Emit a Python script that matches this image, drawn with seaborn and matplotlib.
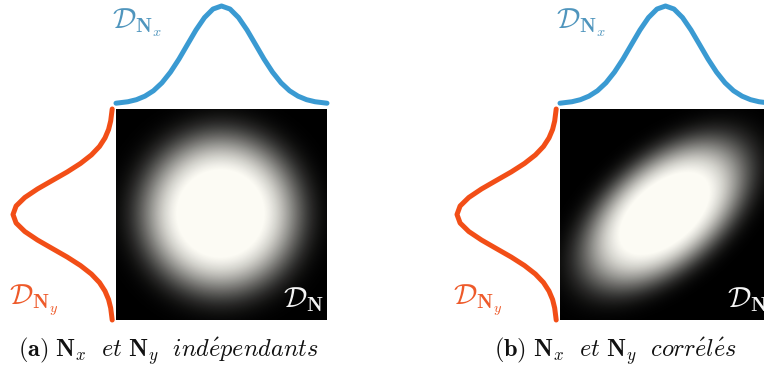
import numpy as np
import pandas as pd
import matplotlib
matplotlib.use("Agg")
import matplotlib.pyplot as plt
from matplotlib.colors import LinearSegmentedColormap
import seaborn as sns

sns.set_theme(style="white")
plt.rcParams["mathtext.fontset"] = "cm"

# ---- data ----
# marginal density shapes (normalised height) at positions in std units
positions = [-3.1, -2.75, -2.5, -2.25, -2.0, -1.75, -1.5, -1.25, -1.0, -0.75, -0.5, -0.25,
             0.0, 0.25, 0.5, 0.75, 1.0, 1.25, 1.5, 1.75, 2.0, 2.25, 2.5, 2.75, 3.1]
top_density = [0.008, 0.023, 0.044, 0.080, 0.135, 0.216, 0.325, 0.458, 0.607, 0.755, 0.882, 0.969,
               1.0, 0.969, 0.882, 0.755, 0.607, 0.458, 0.325, 0.216, 0.135, 0.080, 0.044, 0.023, 0.008]
left_density = [0.008, 0.023, 0.044, 0.080, 0.135, 0.216, 0.325, 0.458, 0.607, 0.755, 0.882, 0.969,
                1.0, 0.969, 0.882, 0.755, 0.607, 0.458, 0.325, 0.216, 0.135, 0.080, 0.044, 0.023, 0.008]

# joint blob: half-intensity radii (px) along major/minor axes and tilt (deg)
panels = ["a", "b"]
blob_major = [71, 86]
blob_minor = [71, 48]
blob_angle = [0, 40]
captions = [r"$\mathbf{(a)}\ \mathbf{N}_x\ \ \mathit{et}\ \mathbf{N}_y\ \ \mathit{ind\acute{e}pendants}$",
            r"$\mathbf{(b)}\ \mathbf{N}_x\ \ \mathit{et}\ \mathbf{N}_y\ \ \mathit{corr\acute{e}l\acute{e}s}$"]
label_x = r"$\mathcal{D}_{\mathbf{N}_x}$"
label_y = r"$\mathcal{D}_{\mathbf{N}_y}$"
label_joint = r"$\mathcal{D}_{\mathbf{N}}$"

BLUE = "#3a9ad2"
ORANGE = "#f24e17"
W, H = 764, 370

fig = plt.figure(figsize=(W / 100, H / 100), dpi=100)


def px_axes(x, y, w, h):
    ax = fig.add_axes([x / W, 1 - (y + h) / H, w / W, h / H])
    ax.set_axis_off()
    return ax


cmap = LinearSegmentedColormap.from_list("blob", ["#000000", "#fcfbf4"])

for i, p in enumerate(panels):
    dx = 444 * i
    # image
    n = 211
    ax_img = px_axes(116 + dx, 109, 211, 211)
    yy, xx = np.mgrid[0:n, 0:n]
    cx, cy = (n - 1) / 2 - 1, (n - 1) / 2 - 1
    th = np.deg2rad(blob_angle[i])
    u = (xx - cx) * np.cos(th) - (yy - cy) * np.sin(th)
    v = (xx - cx) * np.sin(th) + (yy - cy) * np.cos(th)
    r = np.sqrt((u / blob_major[i]) ** 2 + (v / blob_minor[i]) ** 2)
    img = np.clip(1.1 * 2.0 ** (-(r ** 4)), 0, 1)
    sns.heatmap(pd.DataFrame(img), ax=ax_img, cmap=cmap, vmin=0, vmax=1, cbar=False,
                xticklabels=False, yticklabels=False, rasterized=True)
    ax_img.set_axis_off()
    ax_img.text(0.985, 0.03, label_joint, transform=ax_img.transAxes, color="#f4f4f4",
                fontsize=21, ha="right", va="bottom")

    # top marginal
    ax_top = px_axes(116 + dx, 6, 211, 98)
    sns.lineplot(x=positions, y=top_density, ax=ax_top, color=BLUE, lw=3.6,
                 solid_capstyle="round")
    ax_top.set_xlim(-3.1, 3.1)
    ax_top.set_ylim(0, 1)
    ax_top.set_axis_off()
    for l in ax_top.lines:
        l.set_clip_on(False)

    # left marginal
    ax_left = px_axes(13 + dx, 109, 100, 211)
    sns.lineplot(x=left_density, y=positions, ax=ax_left, color=ORANGE, lw=3.6,
                 sort=False, orient="y", solid_capstyle="round")
    ax_left.set_xlim(1, 0)
    ax_left.set_ylim(3.1, -3.1)
    ax_left.set_axis_off()
    for l in ax_left.lines:
        l.set_clip_on(False)

    fig.text((112 + dx) / W, 1 - 29 / H, label_x, color="#4f95bd", fontsize=21,
             ha="left", va="baseline")
    fig.text((9 + dx) / W, 1 - 305 / H, label_y, color="#ee5a2a", fontsize=21,
             ha="left", va="baseline")
    fig.text((168 + 447 * i) / W, 1 - 351 / H, captions[i], color="#111111",
             fontsize=17.5, ha="center", va="center")

fig.savefig("out.png", dpi=100, facecolor="white")
